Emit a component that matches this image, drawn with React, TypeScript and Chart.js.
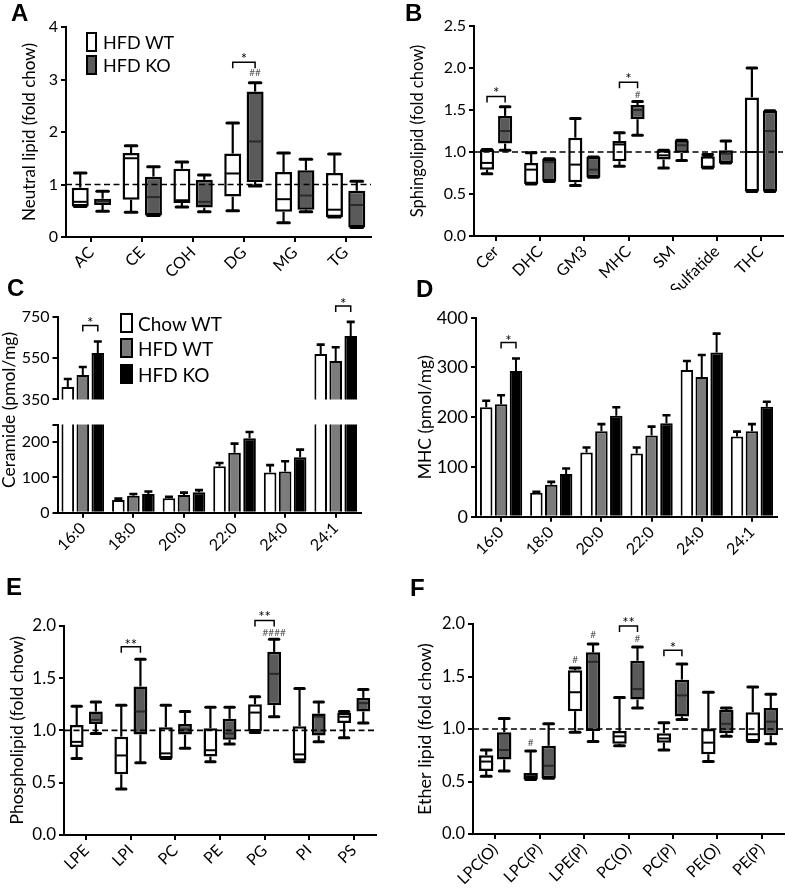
import React, { useEffect, useRef } from 'react';
import { Chart, registerables } from 'chart.js';
Chart.register(...registerables);

const FONT = 'Lato, "Open Sans", sans-serif';
const KO_FILL = '#5a5a5a';
const HFD_GRAY = '#7c7c7c';

// ---------- Panel A : neutral lipids (min, q1, median, q3, max) ----------
const aCategories = ['AC', 'CE', 'COH', 'DG', 'MG', 'TG'];
const aWT = [
  [0.58, 0.58, 0.67, 0.94, 1.22],
  [0.47, 0.71, 1.5, 1.6, 1.74],
  [0.57, 0.65, 0.7, 1.3, 1.43],
  [0.5, 0.77, 1.21, 1.59, 2.17],
  [0.27, 0.48, 0.72, 1.24, 1.6],
  [0.38, 0.38, 0.52, 1.22, 1.58],
];
const aKO = [
  [0.49, 0.61, 0.68, 0.73, 0.87],
  [0.41, 0.41, 0.76, 1.15, 1.34],
  [0.48, 0.56, 0.67, 1.09, 1.18],
  [0.97, 1.05, 1.82, 2.77, 2.94],
  [0.48, 0.52, 0.79, 1.27, 1.48],
  [0.18, 0.18, 0.61, 0.88, 1.06],
];

// ---------- Panel B : sphingolipids ----------
const bCategories = ['Cer', 'DHC', 'GM3', 'MHC', 'SM', 'Sulfatide', 'THC'];
const bWT = [
  [0.74, 0.79, 0.87, 1.03, 1.03],
  [0.62, 0.62, 0.79, 0.87, 0.99],
  [0.6, 0.64, 0.85, 1.17, 1.4],
  [0.83, 0.89, 1.09, 1.13, 1.23],
  [0.81, 0.91, 0.96, 1.02, 1.02],
  [0.81, 0.81, 0.94, 0.95, 0.97],
  [0.53, 0.53, 1.0, 1.65, 2.0],
];
const bKO = [
  [1.02, 1.1, 1.25, 1.43, 1.54],
  [0.65, 0.65, 0.88, 0.92, 0.92],
  [0.7, 0.7, 0.79, 0.94, 0.94],
  [1.2, 1.39, 1.5, 1.56, 1.6],
  [0.9, 0.99, 1.08, 1.14, 1.14],
  [0.87, 0.87, 0.98, 1.02, 1.13],
  [0.53, 0.53, 1.25, 1.49, 1.49],
];

// ---------- Panel C : ceramide species (pmol/mg) ----------
const cCategories = ['16:0', '18:0', '20:0', '22:0', '24:0', '24:1'];
const cChowWT = [410, 36, 41, 132, 114, 570];
const cChowWTErr = [39, 4, 4, 9, 21, 45];
const cHfdWT = [468, 48, 50, 170, 117, 536];
const cHfdWTErr = [39, 5, 7, 26, 29, 66];
const cHfdKO = [574, 53, 58, 211, 157, 657];
const cHfdKOErr = [56, 7, 6, 18, 22, 68];

// ---------- Panel D : MHC species (pmol/mg) ----------
const dCategories = ['16:0', '18:0', '20:0', '22:0', '24:0', '24:1'];
const dChowWT = [220, 48, 129, 127, 295, 161];
const dChowWTErr = [13, 2, 10, 12, 18, 10];
const dHfdWT = [226, 64, 172, 163, 281, 172];
const dHfdWTErr = [18, 6, 14, 18, 44, 14];
const dHfdKO = [293, 86, 203, 188, 330, 221];
const dHfdKOErr = [25, 11, 17, 16, 38, 10];

// ---------- Panel E : phospholipids ----------
const eCategories = ['LPE', 'LPI', 'PC', 'PE', 'PG', 'PI', 'PS'];
const eWT = [
  [0.73, 0.84, 0.89, 1.05, 1.23],
  [0.44, 0.58, 0.76, 0.94, 1.24],
  [0.73, 0.73, 0.78, 1.03, 1.24],
  [0.7, 0.75, 0.81, 1.02, 1.22],
  [0.98, 0.99, 1.17, 1.25, 1.32],
  [0.7, 0.71, 0.77, 1.04, 1.4],
  [0.93, 1.07, 1.13, 1.17, 1.18],
];
const eKO = [
  [0.97, 1.06, 1.1, 1.18, 1.27],
  [0.69, 0.96, 1.18, 1.42, 1.68],
  [0.83, 0.96, 1.01, 1.06, 1.18],
  [0.87, 0.91, 0.97, 1.11, 1.22],
  [1.13, 1.24, 1.54, 1.75, 1.87],
  [0.89, 0.95, 1.13, 1.16, 1.27],
  [1.07, 1.18, 1.26, 1.31, 1.39],
];

// ---------- Panel F : ether lipids ----------
const fCategories = ['LPC(O)', 'LPC(P)', 'LPE(P)', 'PC(O)', 'PC(P)', 'PE(O)', 'PE(P)'];
const fWT = [
  [0.55, 0.6, 0.69, 0.75, 0.8],
  [0.52, 0.52, 0.55, 0.58, 0.79],
  [0.97, 1.17, 1.35, 1.56, 1.58],
  [0.84, 0.86, 0.93, 0.98, 1.3],
  [0.8, 0.87, 0.91, 0.96, 1.06],
  [0.69, 0.76, 0.87, 1.0, 1.35],
  [0.88, 0.88, 0.95, 1.16, 1.4],
];
const fKO = [
  [0.6, 0.71, 0.8, 0.97, 1.1],
  [0.53, 0.53, 0.65, 0.84, 1.05],
  [0.88, 0.98, 1.64, 1.73, 1.81],
  [1.2, 1.28, 1.38, 1.65, 1.78],
  [1.09, 1.12, 1.32, 1.47, 1.62],
  [0.93, 0.96, 1.05, 1.18, 1.2],
  [0.86, 0.94, 1.07, 1.2, 1.33],
];

// ---------- significance marks ----------
type Ann = { kind: 'bracket' | 'text'; cat: number; a: number; b: number; y: number; ty: number; text: string };
const aMarks: Ann[] = [
  { kind: 'bracket', cat: 3, a: 0, b: 1, y: 3.33, ty: 3.47, text: '*' },
  { kind: 'text', cat: 3, a: 1, b: 1, y: 0, ty: 3.14, text: '##' },
];
const bMarks: Ann[] = [
  { kind: 'bracket', cat: 0, a: 0, b: 1, y: 1.66, ty: 1.75, text: '*' },
  { kind: 'bracket', cat: 3, a: 0, b: 1, y: 1.83, ty: 1.92, text: '*' },
  { kind: 'text', cat: 3, a: 1, b: 1, y: 0, ty: 1.69, text: '#' },
];
const cMarks: Ann[] = [
  { kind: 'bracket', cat: 0, a: 1, b: 2, y: 707, ty: 740, text: '*' },
  { kind: 'bracket', cat: 5, a: 1, b: 2, y: 802, ty: 832, text: '*' },
];
const dMarks: Ann[] = [
  { kind: 'bracket', cat: 0, a: 1, b: 2, y: 350, ty: 362, text: '*' },
];
const eMarks: Ann[] = [
  { kind: 'bracket', cat: 1, a: 0, b: 1, y: 1.8, ty: 1.86, text: '**' },
  { kind: 'bracket', cat: 4, a: 0, b: 1, y: 2.05, ty: 2.12, text: '**' },
  { kind: 'text', cat: 4, a: 1, b: 1, y: 0, ty: 1.94, text: '####' },
];
const fMarks: Ann[] = [
  { kind: 'text', cat: 1, a: 0, b: 0, y: 0, ty: 0.87, text: '#' },
  { kind: 'text', cat: 2, a: 0, b: 0, y: 0, ty: 1.66, text: '#' },
  { kind: 'text', cat: 2, a: 1, b: 1, y: 0, ty: 1.9, text: '#' },
  { kind: 'bracket', cat: 3, a: 0, b: 1, y: 1.98, ty: 2.05, text: '**' },
  { kind: 'text', cat: 3, a: 1, b: 1, y: 0, ty: 1.86, text: '#' },
  { kind: 'bracket', cat: 4, a: 0, b: 1, y: 1.75, ty: 1.81, text: '*' },
];

type Rect = { x: number; y: number; w: number; h: number };
type Area = { l: number; t: number; r: number; b: number };

function line(ctx: CanvasRenderingContext2D, x0: number, y0: number, x1: number, y1: number) {
  ctx.beginPath();
  ctx.moveTo(x0, y0);
  ctx.lineTo(x1, y1);
  ctx.stroke();
}

function annPlugin(anns: Ann[]) {
  return {
    id: 'marks',
    afterDraw(chart: any) {
      const { ctx } = chart;
      const ys = chart.scales.y;
      ctx.save();
      ctx.textAlign = 'center';
      ctx.textBaseline = 'alphabetic';
      anns.forEach((m) => {
        const e0 = chart.getDatasetMeta(m.a).data[m.cat];
        const ty = ys.getPixelForValue(m.ty);
        if (m.kind === 'bracket') {
          const e1 = chart.getDatasetMeta(m.b).data[m.cat];
          const py = ys.getPixelForValue(m.y);
          ctx.strokeStyle = '#000';
          ctx.lineWidth = 1.5;
          ctx.beginPath();
          ctx.moveTo(e0.x, py + 6);
          ctx.lineTo(e0.x, py);
          ctx.lineTo(e1.x, py);
          ctx.lineTo(e1.x, py + 6);
          ctx.stroke();
          ctx.fillStyle = '#000';
          ctx.font = `15px ${FONT}`;
          ctx.fillText(m.text, (e0.x + e1.x) / 2, ty + 15 * 0.62);
        } else {
          ctx.fillStyle = '#555';
          ctx.font = `10px ${FONT}`;
          ctx.fillText(m.text, e0.x, ty + 10 * 0.36);
        }
      });
      ctx.restore();
    },
  };
}

function boxPlugin(series: number[][][]) {
  return {
    id: 'boxes',
    beforeDatasetsDraw(chart: any) {
      const { ctx } = chart;
      const ys = chart.scales.y;
      const p = (v: number) => ys.getPixelForValue(v);
      ctx.save();
      ctx.strokeStyle = '#000';
      series.forEach((st, di) => {
        chart.getDatasetMeta(di).data.forEach((bar: any, j: number) => {
          const [mn, q1, , q3, mx] = st[j];
          const x = bar.x;
          const cw = bar.width * 0.34;
          ctx.lineCap = 'butt';
          ctx.lineWidth = 2.2;
          line(ctx, x, p(q3), x, p(mx));
          line(ctx, x, p(q1), x, p(mn));
          ctx.lineCap = 'round';
          ctx.lineWidth = 3;
          line(ctx, x - cw, p(mx), x + cw, p(mx));
          line(ctx, x - cw, p(mn), x + cw, p(mn));
        });
      });
      ctx.restore();
    },
    afterDatasetsDraw(chart: any) {
      const { ctx, chartArea } = chart;
      const ys = chart.scales.y;
      ctx.save();
      series.forEach((st, di) => {
        chart.getDatasetMeta(di).data.forEach((bar: any, j: number) => {
          const md = st[j][2];
          const py = ys.getPixelForValue(md);
          const half = bar.width / 2 - 2;
          ctx.strokeStyle = di === 0 ? '#000' : '#2a2a2a';
          ctx.lineWidth = 2;
          line(ctx, bar.x - half, py, bar.x + half, py);
        });
      });
      const y1 = ys.getPixelForValue(1);
      ctx.setLineDash([6, 3.5]);
      ctx.strokeStyle = '#000';
      ctx.lineWidth = 1.6;
      line(ctx, chartArea.left, y1, chartArea.right, y1);
      ctx.restore();
    },
  };
}

function errPlugin(errs: number[][]) {
  return {
    id: 'errs',
    afterDatasetsDraw(chart: any) {
      const { ctx, chartArea: ca } = chart;
      const ys = chart.scales.y;
      ctx.save();
      ctx.beginPath();
      ctx.rect(ca.left, ca.top - 2, ca.right - ca.left, ca.bottom - ca.top + 2);
      ctx.clip();
      ctx.strokeStyle = '#000';
      errs.forEach((e, di) => {
        const ds = chart.data.datasets[di];
        chart.getDatasetMeta(di).data.forEach((bar: any, j: number) => {
          const v = ds.data[j] as number;
          const p0 = ys.getPixelForValue(v);
          const p1 = ys.getPixelForValue(v + e[j]);
          ctx.lineWidth = 2;
          line(ctx, bar.x, p0, bar.x, p1);
          ctx.lineWidth = 2.6;
          line(ctx, bar.x - 4, p1, bar.x + 4, p1);
        });
      });
      ctx.restore();
    },
  };
}

type AxisOpts = {
  canvas: Rect;
  area: Area;
  yMin: number;
  yMax: number;
  step: number;
  dec: number;
  title?: string;
  titleX?: number;
  tickSize: number;
  xTickSize: number;
  titleSize: number;
  hideX?: boolean;
  padBottom?: number;
  yTicks?: number[];
  blankTick?: number;
};

function baseOptions(o: AxisOpts) {
  const { canvas, area } = o;
  const yW = area.l - canvas.x;
  const xH = canvas.y + canvas.h - area.b;
  const titleLH = o.titleSize * 1.2;
  const grid = {
    display: true,
    drawOnChartArea: false,
    drawTicks: true,
    tickLength: 5,
    tickWidth: 2,
    offset: false,
    color: '#000',
    lineWidth: 2,
  };
  return {
    responsive: false,
    animation: false,
    events: [],
    layout: {
      padding: {
        left: 0,
        top: area.t - canvas.y,
        right: canvas.x + canvas.w - area.r,
        bottom: o.hideX ? o.padBottom || 0 : 0,
      },
    },
    plugins: { legend: { display: false }, tooltip: { enabled: false }, title: { display: false } },
    scales: {
      x: {
        type: 'category',
        display: !o.hideX,
        grid,
        border: { display: true, color: '#000', width: 2 },
        ticks: {
          color: '#000',
          font: { family: FONT, size: o.xTickSize },
          minRotation: 45,
          maxRotation: 45,
          autoSkip: false,
          padding: 1,
        },
        afterFit: (s: any) => {
          if (!o.hideX) s.height = xH;
        },
      },
      y: {
        min: o.yMin,
        max: o.yMax,
        grid,
        border: { display: true, color: '#000', width: 2 },
        ticks: {
          color: '#000',
          stepSize: o.step,
          padding: 3,
          font: { family: FONT, size: o.tickSize },
          callback: (v: any) => (o.blankTick !== undefined && Number(v) === o.blankTick ? '' : Number(v).toFixed(o.dec)),
        },
        afterBuildTicks: (s: any) => {
          if (o.yTicks) s.ticks = o.yTicks.map((v) => ({ value: v }));
        },
        title: {
          display: !!o.title,
          text: o.title || '',
          color: '#000',
          font: { family: FONT, size: o.titleSize },
          padding: { top: (o.titleX || 0) - canvas.x - titleLH / 2, bottom: 0 },
        },
        afterFit: (s: any) => {
          s.width = yW;
        },
      },
    },
  };
}

type BoxOpts = AxisOpts & {
  labels: string[];
  wt: number[][];
  ko: number[][];
  catPct: number;
  barPct: number;
  marks: Ann[];
};

function boxConfig(o: BoxOpts) {
  const mk = (s: number[][], fill: string) => ({
    data: s.map((r) => [r[1], r[3]]),
    backgroundColor: fill,
    borderColor: '#000',
    borderWidth: 2.5,
    borderSkipped: false,
    categoryPercentage: o.catPct,
    barPercentage: o.barPct,
  });
  return {
    type: 'bar',
    data: { labels: o.labels, datasets: [mk(o.wt, '#ffffff'), mk(o.ko, KO_FILL)] },
    options: baseOptions(o),
    plugins: [boxPlugin([o.wt, o.ko]), annPlugin(o.marks)],
  };
}

type BarOpts = AxisOpts & {
  labels: string[];
  series: number[][];
  errs: number[][];
  marks: Ann[];
};

function barConfig(o: BarOpts) {
  const fills = ['#ffffff', HFD_GRAY, '#000000'];
  return {
    type: 'bar',
    data: {
      labels: o.labels,
      datasets: o.series.map((s, i) => ({
        data: s,
        backgroundColor: fills[i],
        borderColor: '#000',
        borderWidth: 2,
        borderSkipped: 'start',
        categoryPercentage: 0.89,
        barPercentage: 0.84,
      })),
    },
    options: baseOptions(o),
    plugins: [errPlugin(o.errs), annPlugin(o.marks)],
  };
}

function ChartBox({ rect, make }: { rect: Rect; make: () => any }) {
  const ref = useRef<HTMLCanvasElement>(null);
  useEffect(() => {
    const chart = new Chart(ref.current as HTMLCanvasElement, make());
    return () => chart.destroy();
  }, []);
  return (
    <canvas
      ref={ref}
      width={rect.w}
      height={rect.h}
      style={{ position: 'absolute', left: rect.x, top: rect.y, width: rect.w, height: rect.h, display: 'block' }}
    />
  );
}

const letterStyle = (left: number, top: number): React.CSSProperties => ({
  position: 'absolute',
  left,
  top,
  fontFamily: '"Liberation Sans", Arial, sans-serif',
  fontWeight: 'bold',
  fontSize: 24,
  lineHeight: 1,
  color: '#000',
});

function LegendItem({ x, y, w, h, fill, text, size, gap }: any) {
  return (
    <>
      <div
        style={{
          position: 'absolute',
          left: x,
          top: y,
          width: w,
          height: h,
          boxSizing: 'border-box',
          border: '2.5px solid #000',
          background: fill,
        }}
      />
      <div
        style={{
          position: 'absolute',
          left: x + w + gap,
          top: y + h / 2,
          transform: 'translateY(-50%)',
          fontFamily: FONT,
          fontSize: size,
          lineHeight: 1,
          whiteSpace: 'nowrap',
          color: '#000',
        }}
      >
        {text}
      </div>
    </>
  );
}

export default function App() {
  const rA: Rect = { x: 0, y: 0, w: 395, h: 290 };
  const rB: Rect = { x: 395, y: 0, w: 392, h: 290 };
  const rCu: Rect = { x: 0, y: 290, w: 395, h: 122 };
  const rCl: Rect = { x: 0, y: 412, w: 395, h: 168 };
  const rD: Rect = { x: 395, y: 290, w: 392, h: 290 };
  const rE: Rect = { x: 0, y: 580, w: 395, h: 308 };
  const rF: Rect = { x: 395, y: 580, w: 392, h: 308 };

  return (
    <div style={{ position: 'absolute', left: 0, top: 0, width: 787, height: 888, background: '#fff', overflow: 'hidden' }}>
      <ChartBox
        rect={rA}
        make={() =>
          boxConfig({
            canvas: rA,
            area: { l: 66, t: 27, r: 371, b: 237 },
            yMin: 0, yMax: 4, step: 1, dec: 0,
            title: 'Neutral lipid (fold chow)', titleX: 30,
            tickSize: 16, xTickSize: 16, titleSize: 17,
            labels: aCategories, wt: aWT, ko: aKO, catPct: 0.88, barPct: 0.76, marks: aMarks,
          })
        }
      />
      <ChartBox
        rect={rB}
        make={() =>
          boxConfig({
            canvas: rB,
            area: { l: 474, t: 26, r: 783, b: 236 },
            yMin: 0, yMax: 2.5, step: 0.5, dec: 1,
            title: 'Sphingolipid (fold chow)', titleX: 418,
            tickSize: 16, xTickSize: 16, titleSize: 16.5,
            labels: bCategories, wt: bWT, ko: bKO, catPct: 0.82, barPct: 0.78, marks: bMarks,
          })
        }
      />
      <ChartBox
        rect={rCu}
        make={() =>
          barConfig({
            canvas: rCu,
            area: { l: 57.5, t: 316.7, r: 361, b: 401.7 },
            yMin: 350, yMax: 750, step: 200, dec: 0,
            tickSize: 16, xTickSize: 16, titleSize: 15,
            hideX: true, padBottom: 10.3,
            labels: cCategories,
            series: [cChowWT, cHfdWT, cHfdKO],
            errs: [cChowWTErr, cHfdWTErr, cHfdKOErr],
            marks: cMarks,
          })
        }
      />
      <ChartBox
        rect={rCl}
        make={() =>
          barConfig({
            canvas: rCl,
            area: { l: 57.5, t: 419.3, r: 361, b: 512.7 },
            yMin: 0, yMax: 250, step: 100, dec: 0,
            yTicks: [0, 100, 200, 250], blankTick: 250,
            tickSize: 16, xTickSize: 16, titleSize: 15,
            labels: cCategories,
            series: [cChowWT, cHfdWT, cHfdKO],
            errs: [cChowWTErr, cHfdWTErr, cHfdKOErr],
            marks: [],
          })
        }
      />
      <ChartBox
        rect={rD}
        make={() =>
          barConfig({
            canvas: rD,
            area: { l: 476, t: 317.7, r: 777, b: 516.7 },
            yMin: 0, yMax: 400, step: 100, dec: 0,
            title: 'MHC (pmol/mg)', titleX: 425,
            tickSize: 18, xTickSize: 16, titleSize: 17.5,
            labels: dCategories,
            series: [dChowWT, dHfdWT, dHfdKO],
            errs: [dChowWTErr, dHfdWTErr, dHfdKOErr],
            marks: dMarks,
          })
        }
      />
      <ChartBox
        rect={rE}
        make={() =>
          boxConfig({
            canvas: rE,
            area: { l: 64, t: 625.7, r: 376, b: 835 },
            yMin: 0, yMax: 2, step: 0.5, dec: 1,
            title: 'Phospholipid (fold chow)', titleX: 17,
            tickSize: 17, xTickSize: 16, titleSize: 17.5,
            labels: eCategories, wt: eWT, ko: eKO, catPct: 0.86, barPct: 0.72, marks: eMarks,
          })
        }
      />
      <ChartBox
        rect={rF}
        make={() =>
          boxConfig({
            canvas: rF,
            area: { l: 473, t: 624, r: 784, b: 834 },
            yMin: 0, yMax: 2, step: 0.5, dec: 1,
            title: 'Ether lipid (fold chow)', titleX: 425,
            tickSize: 16.5, xTickSize: 16, titleSize: 18,
            labels: fCategories, wt: fWT, ko: fKO, catPct: 0.81, barPct: 0.8, marks: fMarks,
          })
        }
      />

      <div
        style={{
          position: 'absolute',
          left: 9,
          top: 410,
          transform: 'translate(-50%, -50%) rotate(-90deg)',
          fontFamily: FONT,
          fontSize: 17.5,
          lineHeight: 1,
          whiteSpace: 'nowrap',
          color: '#000',
        }}
      >
        Ceramide (pmol/mg)
      </div>

      <LegendItem x={86} y={32} w={11} h={20} fill="#ffffff" text="HFD WT" size={18} gap={6} />
      <LegendItem x={86} y={55} w={11} h={20} fill={KO_FILL} text="HFD KO" size={18} gap={6} />

      <LegendItem x={120} y={313} w={13} h={20} fill="#ffffff" text="Chow WT" size={19} gap={5} />
      <LegendItem x={120} y={338} w={13} h={20} fill={HFD_GRAY} text="HFD WT" size={19} gap={5} />
      <LegendItem x={120} y={364} w={13} h={20} fill="#000000" text="HFD KO" size={19} gap={5} />

      <div style={letterStyle(11, 1)}>A</div>
      <div style={letterStyle(405, 1)}>B</div>
      <div style={letterStyle(7, 276)}>C</div>
      <div style={letterStyle(416, 277)}>D</div>
      <div style={letterStyle(6, 575)}>E</div>
      <div style={letterStyle(410, 576)}>F</div>
    </div>
  );
}
